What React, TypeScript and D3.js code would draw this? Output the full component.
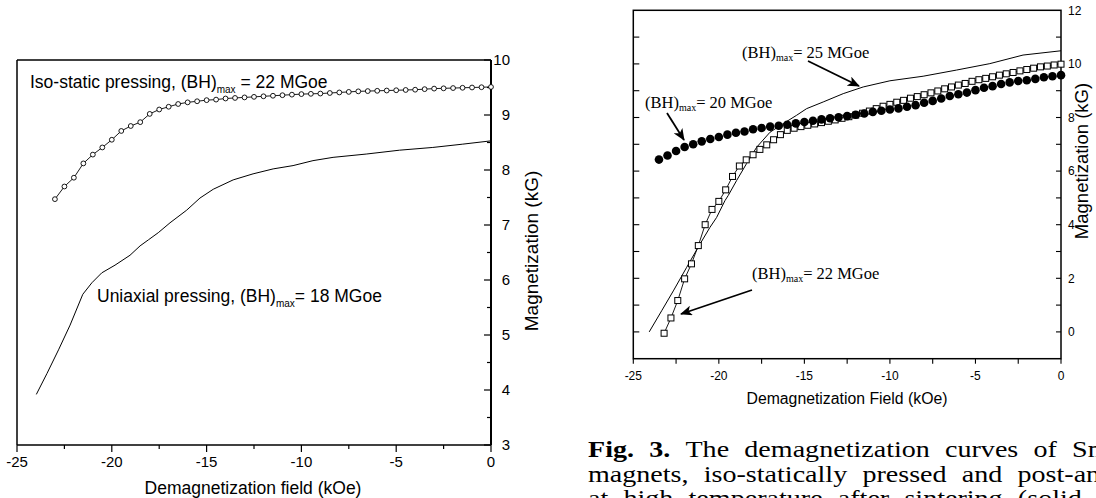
import React, { useEffect, useRef } from 'react';
import * as d3 from 'd3';

// left panel: iso-static pressing (open circles) and uniaxial pressing (line)
const isoField = [-23, -22.5, -22, -21.5, -21, -20.5, -20, -19.5, -19, -18.5, -18, -17.5, -17, -16.5, -16, -15.5, -15, -14.5, -14, -13.5, -13, -12.5, -12, -11.5, -11, -10.5, -10, -9.5, -9, -8.5, -8, -7.5, -7, -6.5, -6, -5.5, -5, -4.5, -4, -3.5, -3, -2.5, -2, -1.5, -1, -0.5, 0];
const isoMag = [7.47, 7.7, 7.86, 8.12, 8.28, 8.41, 8.55, 8.71, 8.8, 8.87, 9.02, 9.1, 9.15, 9.2, 9.23, 9.25, 9.27, 9.28, 9.3, 9.31, 9.32, 9.33, 9.34, 9.35, 9.36, 9.37, 9.38, 9.385, 9.39, 9.4, 9.41, 9.42, 9.43, 9.435, 9.44, 9.445, 9.45, 9.455, 9.46, 9.47, 9.48, 9.485, 9.49, 9.495, 9.5, 9.505, 9.51];

const uniField = [-23.98, -23.42, -22.81, -22.2, -21.53, -21.05, -20.53, -19.83, -19.04, -18.51, -18.07, -17.55, -16.93, -16.05, -15.35, -14.65, -13.6, -12.55, -11.49, -10.44, -9.39, -8.33, -6.58, -4.83, -3.07, -1.49, 0];
const uniMag = [3.92, 4.3, 4.73, 5.18, 5.74, 5.95, 6.13, 6.27, 6.45, 6.62, 6.73, 6.86, 7.04, 7.27, 7.49, 7.65, 7.82, 7.93, 8.02, 8.08, 8.17, 8.23, 8.29, 8.36, 8.41, 8.47, 8.53];

// right panel: (BH)max = 20 (filled circles), 22 (open squares), 25 MGoe (line)
const bh20Field = [-23.5, -23, -22.5, -22, -21.5, -21, -20.5, -20, -19.5, -19, -18.5, -18, -17.5, -17, -16.5, -16, -15.5, -15, -14.5, -14, -13.5, -13, -12.5, -12, -11.5, -11, -10.5, -10, -9.5, -9, -8.5, -8, -7.5, -7, -6.5, -6, -5.5, -5, -4.5, -4, -3.5, -3, -2.5, -2, -1.5, -1, -0.5, 0];
const bh20Mag = [6.43, 6.58, 6.75, 6.9, 7.0, 7.11, 7.2, 7.27, 7.36, 7.43, 7.48, 7.56, 7.61, 7.66, 7.69, 7.73, 7.78, 7.83, 7.88, 7.93, 7.97, 8.01, 8.05, 8.1, 8.15, 8.21, 8.25, 8.3, 8.34, 8.4, 8.46, 8.55, 8.62, 8.71, 8.8, 8.87, 8.93, 9.02, 9.11, 9.17, 9.25, 9.31, 9.36, 9.39, 9.44, 9.5, 9.54, 9.58];

const bh22Field = [-23.2, -22.8, -22.4, -22, -21.6, -21.2, -20.8, -20.4, -20, -19.6, -19.2, -18.8, -18.4, -18, -17.6, -17.2, -16.8, -16.4, -16, -15.6, -15.2, -14.8, -14.4, -14, -13.6, -13.2, -12.8, -12.4, -12, -11.6, -11.2, -10.8, -10.4, -10, -9.6, -9.2, -8.8, -8.4, -8, -7.6, -7.2, -6.8, -6.4, -6, -5.6, -5.2, -4.8, -4.4, -4, -3.6, -3.2, -2.8, -2.4, -2, -1.6, -1.2, -0.8, -0.4, 0];
const bh22Mag = [-0.05, 0.52, 1.17, 1.98, 2.54, 3.22, 4.0, 4.57, 4.87, 5.3, 5.8, 6.19, 6.42, 6.61, 6.81, 6.98, 7.17, 7.36, 7.52, 7.6, 7.66, 7.71, 7.76, 7.81, 7.86, 7.91, 7.97, 8.03, 8.09, 8.16, 8.24, 8.33, 8.42, 8.49, 8.57, 8.64, 8.72, 8.78, 8.85, 8.92, 8.99, 9.07, 9.14, 9.21, 9.27, 9.35, 9.41, 9.46, 9.52, 9.58, 9.63, 9.68, 9.74, 9.79, 9.84, 9.89, 9.92, 9.96, 9.99];

const bh25Field = [-24.07, -23.34, -22.66, -21.88, -21.1, -20.52, -20.13, -19.64, -19.45, -18.96, -18.38, -17.79, -17.01, -16.24, -15.46, -14.87, -13.9, -12.73, -11.56, -10.0, -8.06, -6.11, -4.16, -2.22, 0];
const bh25Mag = [0.0, 0.79, 1.53, 2.41, 3.28, 3.9, 4.27, 4.9, 5.09, 5.65, 6.28, 6.89, 7.45, 7.77, 8.08, 8.33, 8.58, 8.89, 9.14, 9.37, 9.54, 9.77, 10.01, 10.33, 10.49];

const leftYTicks = [3, 4, 5, 6, 7, 8, 9, 10];
const fieldTicks = [-25, -20, -15, -10, -5, 0];
const rightYTicks = [0, 2, 4, 6, 8, 10, 12];

const captionLines = [
  ['Fig. 3.', 'The demagnetization curves of Sm2Co17'],
  ['', 'magnets, iso-statically pressed and post-annealed'],
  ['', 'at high temperature after sintering (solid line),'],
];

const sans = '"Liberation Sans", Arial, sans-serif';
const serif = '"Liberation Serif", "Times New Roman", serif';

const App = () => {
  const ref = useRef<SVGSVGElement | null>(null);

  useEffect(() => {
    const svg = d3.select(ref.current);
    svg.selectAll('*').remove();

    const defs = svg.append('defs');
    defs
      .append('marker')
      .attr('id', 'arrow')
      .attr('viewBox', '0 0 12 10')
      .attr('refX', 11)
      .attr('refY', 5)
      .attr('markerWidth', 12)
      .attr('markerHeight', 10)
      .attr('markerUnits', 'userSpaceOnUse')
      .attr('orient', 'auto')
      .append('path')
      .attr('d', 'M0,0 L12,5 L0,10 L3,5 Z')
      .attr('fill', '#000');

    const bhText = (g: any, x: number, y: number, pre: string, post: string, font: string, size: number, sub: number, shift: number) => {
      const t = g.append('text').attr('x', x).attr('y', y).style('font-family', font).style('font-size', size + 'px').attr('fill', '#000');
      t.append('tspan').text(pre);
      t.append('tspan').attr('dy', shift).style('font-size', sub + 'px').text('max');
      t.append('tspan').attr('dy', -shift).text(post);
    };

    // ---------- left panel ----------
    const xL = d3.scaleLinear().domain([-25, 0]).range([17, 491]);
    const yL = d3.scaleLinear().domain([3, 10]).range([445, 60]);
    const gL = svg.append('g');

    // frame (left + top thin, bottom + right axes)
    gL.append('line').attr('x1', xL(-25)).attr('x2', xL(-25)).attr('y1', yL(3)).attr('y2', yL(10)).attr('stroke', '#000').attr('stroke-width', 1.5);
    gL.append('line').attr('x1', xL(-25)).attr('x2', xL(0)).attr('y1', yL(10)).attr('y2', yL(10)).attr('stroke', '#000').attr('stroke-width', 1.5);
    gL.append('line').attr('x1', xL(-25)).attr('x2', xL(0)).attr('y1', yL(3)).attr('y2', yL(3)).attr('stroke', '#000').attr('stroke-width', 1.5);
    gL.append('line').attr('x1', xL(0)).attr('x2', xL(0)).attr('y1', yL(3)).attr('y2', yL(10)).attr('stroke', '#000').attr('stroke-width', 2);

    // x ticks (outward)
    d3.range(-25, 0.1, 2.5).forEach(v => {
      const major = v % 5 === 0;
      gL.append('line').attr('x1', xL(v)).attr('x2', xL(v)).attr('y1', yL(3)).attr('y2', yL(3) + (major ? 7 : 4)).attr('stroke', '#000').attr('stroke-width', 1.2);
    });
    gL.selectAll('.xlab')
      .data(fieldTicks)
      .enter()
      .append('text')
      .attr('x', d => xL(d))
      .attr('y', 467)
      .attr('text-anchor', 'middle')
      .style('font-family', sans)
      .style('font-size', '15px')
      .text(d => String(d));

    // right y ticks (inward)
    d3.range(3, 10.01, 0.5).forEach(v => {
      const major = v % 1 === 0;
      gL.append('line').attr('x1', xL(0)).attr('x2', xL(0) - (major ? 7 : 4)).attr('y1', yL(v)).attr('y2', yL(v)).attr('stroke', '#000').attr('stroke-width', 1.2);
    });
    gL.selectAll('.ylab')
      .data(leftYTicks)
      .enter()
      .append('text')
      .attr('x', 510)
      .attr('y', d => yL(d))
      .attr('dy', '0.36em')
      .attr('text-anchor', 'end')
      .style('font-family', sans)
      .style('font-size', '15px')
      .text(d => String(d));

    gL.append('text')
      .attr('x', 253)
      .attr('y', 494)
      .attr('text-anchor', 'middle')
      .style('font-family', sans)
      .style('font-size', '17.5px')
      .text('Demagnetization field (kOe)');
    gL.append('text')
      .attr('transform', 'translate(538,251) rotate(-90)')
      .attr('text-anchor', 'middle')
      .style('font-family', sans)
      .style('font-size', '19px')
      .text('Magnetization (kG)');

    // uniaxial line
    const uniData = uniField.map((f, i) => ({ f, m: uniMag[i] }));
    gL.append('path')
      .datum(uniData)
      .attr('fill', 'none')
      .attr('stroke', '#000')
      .attr('stroke-width', 1)
      .attr('d', d3.line<any>().x(d => xL(d.f)).y(d => yL(d.m)));

    // iso-static line + open circles
    const isoData = isoField.map((f, i) => ({ f, m: isoMag[i] }));
    gL.append('path')
      .datum(isoData)
      .attr('fill', 'none')
      .attr('stroke', '#000')
      .attr('stroke-width', 0.9)
      .attr('d', d3.line<any>().x(d => xL(d.f)).y(d => yL(d.m)));
    gL.selectAll('.iso')
      .data(isoData)
      .enter()
      .append('circle')
      .attr('cx', d => xL(d.f))
      .attr('cy', d => yL(d.m))
      .attr('r', 2.4)
      .attr('fill', '#fff')
      .attr('stroke', '#000')
      .attr('stroke-width', 0.9);

    bhText(gL, 30, 88, 'Iso-static pressing, (BH)', ' = 22 MGoe', sans, 17.5, 10, 5);
    bhText(gL, 97, 302, 'Uniaxial pressing, (BH)', '= 18 MGoe', sans, 17.5, 10, 5);

    // ---------- right panel ----------
    const xR = d3.scaleLinear().domain([-25, 0]).range([633.3, 1061]);
    const yR = d3.scaleLinear().domain([-1, 12]).range([358.7, 10.3]);
    const gR = svg.append('g');

    gR.append('rect')
      .attr('x', xR(-25))
      .attr('y', yR(12))
      .attr('width', xR(0) - xR(-25))
      .attr('height', yR(-1) - yR(12))
      .attr('fill', 'none')
      .attr('stroke', '#000')
      .attr('stroke-width', 1.5);

    d3.range(-25, 0.1, 2.5).forEach(v => {
      gR.append('line').attr('x1', xR(v)).attr('x2', xR(v)).attr('y1', yR(-1)).attr('y2', yR(-1) + 5).attr('stroke', '#000').attr('stroke-width', 1.1);
    });
    d3.range(0, 12, 1).forEach(v => {
      gR.append('line').attr('x1', xR(-25)).attr('x2', xR(-25) + 6).attr('y1', yR(v)).attr('y2', yR(v)).attr('stroke', '#000').attr('stroke-width', 1.1);
      gR.append('line').attr('x1', xR(0)).attr('x2', xR(0) - 5).attr('y1', yR(v)).attr('y2', yR(v)).attr('stroke', '#000').attr('stroke-width', 1.1);
    });
    gR.selectAll('.xlab')
      .data(fieldTicks)
      .enter()
      .append('text')
      .attr('x', d => xR(d))
      .attr('y', 380)
      .attr('text-anchor', 'middle')
      .style('font-family', sans)
      .style('font-size', '12px')
      .text(d => String(d));
    gR.selectAll('.ylab')
      .data(rightYTicks)
      .enter()
      .append('text')
      .attr('x', 1068)
      .attr('y', d => yR(d))
      .attr('dy', '0.36em')
      .style('font-family', sans)
      .style('font-size', '12px')
      .text(d => String(d));

    gR.append('text')
      .attr('x', 847)
      .attr('y', 404)
      .attr('text-anchor', 'middle')
      .style('font-family', sans)
      .style('font-size', '15.8px')
      .text('Demagnetization Field (kOe)');
    gR.append('text')
      .attr('transform', 'translate(1088,161) rotate(-90)')
      .attr('text-anchor', 'middle')
      .style('font-family', sans)
      .style('font-size', '18.5px')
      .text('Magnetization (kG)');

    // 25 MGoe line
    const d25 = bh25Field.map((f, i) => ({ f, m: bh25Mag[i] }));
    gR.append('path')
      .datum(d25)
      .attr('fill', 'none')
      .attr('stroke', '#000')
      .attr('stroke-width', 1)
      .attr('d', d3.line<any>().x(d => xR(d.f)).y(d => yR(d.m)));

    // 22 MGoe open squares
    const d22 = bh22Field.map((f, i) => ({ f, m: bh22Mag[i] }));
    gR.append('path')
      .datum(d22)
      .attr('fill', 'none')
      .attr('stroke', '#000')
      .attr('stroke-width', 0.9)
      .attr('d', d3.line<any>().x(d => xR(d.f)).y(d => yR(d.m)));
    gR.selectAll('.sq')
      .data(d22)
      .enter()
      .append('rect')
      .attr('x', d => xR(d.f) - 3)
      .attr('y', d => yR(d.m) - 3)
      .attr('width', 6)
      .attr('height', 6)
      .attr('fill', '#fff')
      .attr('stroke', '#000')
      .attr('stroke-width', 1);

    // 20 MGoe filled circles
    const d20 = bh20Field.map((f, i) => ({ f, m: bh20Mag[i] }));
    gR.selectAll('.dot')
      .data(d20)
      .enter()
      .append('circle')
      .attr('cx', d => xR(d.f))
      .attr('cy', d => yR(d.m))
      .attr('r', 4.3)
      .attr('fill', '#000');

    bhText(gR, 742, 58, '(BH)', '= 25 MGoe', serif, 16.5, 10, 3);
    bhText(gR, 645, 108, '(BH)', '= 20 MGoe', serif, 16.5, 10, 3);
    bhText(gR, 752, 279, '(BH)', '= 22 MGoe', serif, 16.5, 10, 3);

    const arrows = [
      [808, 61, 859, 86],
      [667, 113, 684, 140],
      [752, 290, 681, 314],
    ];
    arrows.forEach(a => {
      gR.append('line')
        .attr('x1', a[0]).attr('y1', a[1]).attr('x2', a[2]).attr('y2', a[3])
        .attr('stroke', '#000')
        .attr('stroke-width', 1.8)
        .attr('marker-end', 'url(#arrow)');
    });

    // caption (stretched horizontally like the scanned figure)
    const cap = svg.append('g').style('font-family', serif).style('font-size', '24px');
    captionLines.forEach((ln, i) => {
      const t = cap.append('text')
        .attr('transform', `translate(588,${457 + i * 24.6}) scale(1.17,1)`)
        .attr('x', 0)
        .attr('y', 0)
        .style('word-spacing', '7px')
        .attr('fill', '#000');
      if (ln[0]) t.append('tspan').style('font-weight', 'bold').text(ln[0] + ' ');
      t.append('tspan').text(ln[1]);
    });
  }, []);

  return (
    <div style={{ position: 'absolute', left: 0, top: 0, width: 1096, height: 498, background: '#fff' }}>
      <svg ref={ref} width={1096} height={498} style={{ display: 'block', background: '#fff' }} />
    </div>
  );
};

export default App;
